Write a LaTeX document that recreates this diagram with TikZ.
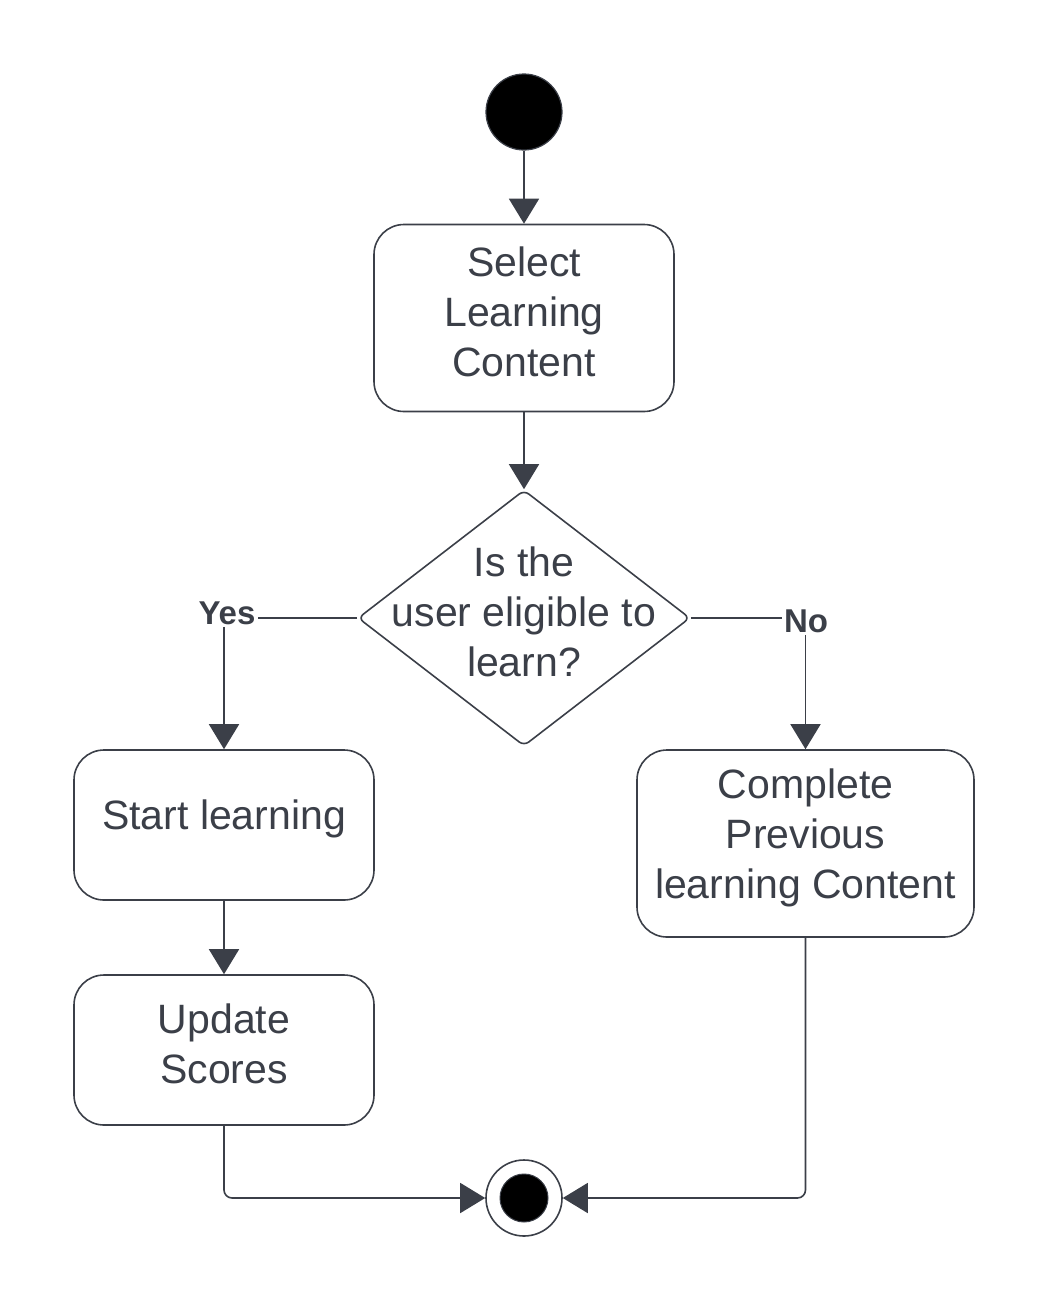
\documentclass[tikz,border=0pt]{standalone}
\usepackage{fontspec}
\setmainfont{Liberation Sans}
\usetikzlibrary{shapes.geometric,arrows.meta}
\definecolor{ink}{HTML}{3B3F48}

\begin{document}
\begin{tikzpicture}[x=0.5pt,y=-0.5pt,
  caption/.style={align=center,text=ink,font=\fontsize{20.5}{25}\selectfont,yshift=3pt},
  box/.style={draw=ink,line width=0.8pt,rounded corners=15pt,minimum width=150pt,
    label={[caption]center:#1}},
  flow/.style={draw=ink,line width=0.8pt,-{Triangle[width=15pt,length=12.5pt]}},
  branch/.style={text=ink,font=\fontsize{16.5}{18}\selectfont\bfseries,inner sep=1pt}]
  \useasboundingbox (0,0) rectangle (1050,1313);
  % start and end
  \node[circle,fill=black,draw=ink,line width=0.6pt,minimum size=38pt] (init) at (524,112) {};
  \node[circle,draw=ink,line width=0.8pt,minimum size=38pt] (final) at (524,1198) {};
  \node[circle,fill=black,draw=ink,line width=0.5pt,minimum size=24pt] (finaldot) at (final) {};
  % activities
  \node[box={Select\\Learning\\Content},minimum height=93.5pt] (select) at (524,318) {};
  \node[diamond,draw=ink,line width=0.8pt,rounded corners=3pt,inner sep=0pt,
    minimum width=166pt,minimum height=128pt,
    label={[caption]center:Is the\\user eligible to\\learn?}] (eligible) at (524,618) {};
  \node[box={Start learning},minimum height=75pt] (learn) at (224,825) {};
  \node[box={Update\\Scores},minimum height=75pt] (update) at (224,1050) {};
  \node[box={Complete\\Previous\\learning Content},minimum width=168.5pt,minimum height=93.5pt]
    (previous) at (805.5,843.5) {};
  % branch labels
  \node[branch] (yes) at (227,613) {Yes};
  \node[branch] (no) at (806,621) {No};
  % connectors
  \draw[flow] (init) -- (select);
  \draw[flow] (select) -- (eligible);
  \draw[draw=ink,line width=0.8pt] (eligible.west) -- (eligible.west -| yes.east);
  \draw[flow] (learn.north |- yes.south) -- (learn.north);
  \draw[draw=ink,line width=0.8pt] (eligible.east) -- (eligible.east -| no.west);
  \draw[flow] (previous.north |- no.south) -- (previous.north);
  \draw[flow] (learn) -- (update);
  \draw[flow,rounded corners=4pt] (update.south) |- (final.west);
  \draw[flow,rounded corners=4pt] (previous.south) |- (final.east);
\end{tikzpicture}
\end{document}
